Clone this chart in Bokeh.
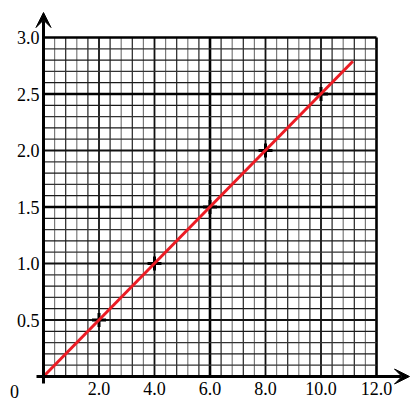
from bokeh.plotting import figure
from bokeh.models import Arrow, VeeHead, ColumnDataSource, FixedTicker, Label
from bokeh.embed import file_html
from bokeh.resources import INLINE

# ---- data ----
x_values = [0.0, 2.0, 4.0, 6.0, 8.0, 10.0]
y_values = [0.0, 0.5, 1.0, 1.5, 2.0, 2.5]
fit_x = [0.0, 11.15]
fit_y = [0.0, 2.79]
x_ticks = [2.0, 4.0, 6.0, 8.0, 10.0, 12.0]
x_tick_labels = ["2.0", "4.0", "6.0", "8.0", "10.0", "12.0"]
y_ticks = [0.5, 1.0, 1.5, 2.0, 2.5, 3.0]
y_tick_labels = ["0.5", "1.0", "1.5", "2.0", "2.5", "3.0"]
origin_label = "0"
x_max = 12.0
y_max = 3.0
x_minor = 0.4
y_minor = 0.1
x_bold = [6.0, 12.0]
y_bold = [1.5, 2.5, 3.0]

# ---- layout ----
W, H = 411, 403
x0_px, x12_px = 43, 376      # canvas px of x = 0 and x = 12
ytop_px, y0_px = 37, 376     # canvas px of y = 3 and y = 0
sx = (x12_px - x0_px) / x_max
sy = (y0_px - ytop_px) / y_max
x_range = (-x0_px / sx, (W - x0_px) / sx)
y_range = (-(H - y0_px) / sy, y_max + ytop_px / sy)

p = figure(width=W, height=H, x_range=x_range, y_range=y_range,
           min_border=0, toolbar_location=None, output_backend="svg")
p.outline_line_color = None
p.background_fill_color = "white"
p.border_fill_color = "white"
p.grid.visible = False

FONT = "Liberation Serif"
for ax in (p.xaxis[0], p.yaxis[0]):
    ax.fixed_location = 0
    ax.axis_line_color = None
    ax.major_tick_line_color = None
    ax.minor_tick_line_color = None
    ax.major_tick_out = 0
    ax.major_tick_in = 0
    ax.minor_tick_out = 0
    ax.major_label_text_font = FONT
    ax.major_label_text_font_size = "18px"
    ax.major_label_text_color = "black"
p.xaxis.ticker = FixedTicker(ticks=x_ticks)
p.xaxis.major_label_overrides = dict(zip(x_ticks, x_tick_labels))
p.xaxis.major_label_standoff = 5
p.yaxis.ticker = FixedTicker(ticks=y_ticks)
p.yaxis.major_label_overrides = dict(zip(y_ticks, y_tick_labels))
p.yaxis.major_label_standoff = 4

# ---- grid paper ----
seg = dict(x0=[], y0=[], x1=[], y1=[], c=[], w=[])
nx = int(round(x_max / x_minor))
for i in range(1, nx + 1):
    x = i * x_minor
    if any(abs(x - b) < 1e-6 for b in x_bold):
        c, w = "#000000", 2.6
    elif abs(x / 2.0 - round(x / 2.0)) < 1e-6:
        c, w = "#111111", 1.8
    else:
        c, w = ("#7a7a7a" if i % 2 else "#222222"), 1.2
    seg["x0"].append(x); seg["x1"].append(x)
    seg["y0"].append(0.0); seg["y1"].append(y_max)
    seg["c"].append(c); seg["w"].append(w)
ny = int(round(y_max / y_minor))
for j in range(1, ny + 1):
    y = j * y_minor
    if any(abs(y - b) < 1e-6 for b in y_bold):
        c, w = "#000000", 2.6
    elif abs(y / 0.5 - round(y / 0.5)) < 1e-6:
        c, w = "#111111", 1.8
    else:
        c, w = ("#333333" if j % 2 else "#1a1a1a"), 1.2
    seg["x0"].append(0.0); seg["x1"].append(x_max)
    seg["y0"].append(y); seg["y1"].append(y)
    seg["c"].append(c); seg["w"].append(w)
p.segment(x0="x0", y0="y0", x1="x1", y1="y1", line_color="c", line_width="w",
          source=ColumnDataSource(seg))

# ---- axis lines with arrow heads ----
p.add_layout(Arrow(end=VeeHead(size=15, fill_color="black", line_color="black"),
                   x_start=0, y_start=0, x_end=0, y_end=y_max + 25 / sy,
                   line_color="black", line_width=3))
p.add_layout(Arrow(end=VeeHead(size=15, fill_color="black", line_color="black"),
                   x_start=0, y_start=0, x_end=x_max + 33 / sx, y_end=0,
                   line_color="black", line_width=3))

# ---- origin label ----
p.add_layout(Label(x=-29 / sx, y=-15 / sy, text=origin_label,
                   text_font=FONT, text_font_size="18px", text_color="black",
                   text_align="center", text_baseline="alphabetic"))

# ---- data points and fitted line ----
p.scatter(x_values, y_values, marker="cross", size=14,
          line_color="black", line_width=3)
p.line(fit_x, fit_y, line_color="#ec1c24", line_width=3)

open("out.html", "w").write(file_html(p, INLINE))
